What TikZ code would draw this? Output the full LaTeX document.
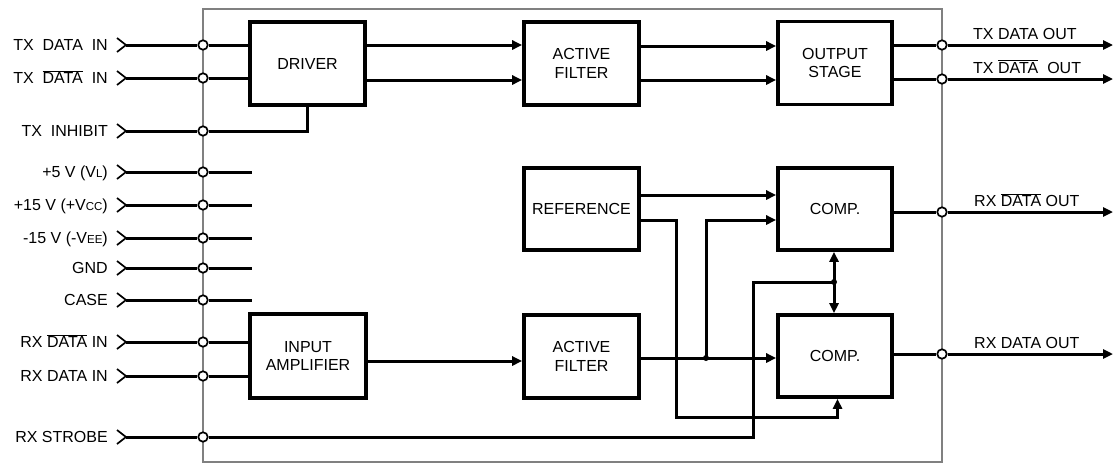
\documentclass[tikz,border=0pt]{standalone}
\usepackage{fontspec}
\setmainfont{Liberation Sans}
\usetikzlibrary{arrows.meta}
\pgfdeclarelayer{background}
\pgfsetlayers{background,main}
\newcommand\ovl[1]{\ensuremath{\overline{\hbox{#1}}}}
\newcommand\smc[1]{{\fontsize{11.5}{11.5}\selectfont #1}}
\begin{document}
\begin{tikzpicture}[x=1pt,y=-1pt,
  wire/.style={line width=3pt},
  arr/.style={line width=3pt,-{Triangle[length=10pt,width=9pt]}},
  blk/.style={draw,line width=3.6pt,minimum width=115pt,minimum height=83pt,inner sep=0pt,align=center,font=\fontsize{16}{18.3}\selectfont},
  pin/.style={circle,draw,fill=white,line width=1.7pt,minimum size=9.5pt,inner sep=0pt},
  lab/.style={anchor=base east,inner sep=0pt,font=\fontsize{16}{18}\selectfont},
  olab/.style={anchor=base west,inner sep=0pt,font=\fontsize{16}{18}\selectfont},
  chev/.style={line width=1.7pt},
  frame/.style={draw=black!50,line width=2.2pt},
  dot/.style={circle,fill=black,minimum size=6pt,inner sep=0pt},
]
\useasboundingbox (0,0) rectangle (1115,466);

% blocks
\node[blk] (drv)  at (307.5,63.5) {DRIVER};
\node[blk] (af1)  at (581.5,63.5) {ACTIVE\\FILTER};
\node[blk,minimum width=114pt] (out) at (835,63) {OUTPUT\\STAGE};
\node[blk,minimum height=82pt] (ref) at (581.5,209) {REFERENCE};
\node[blk,minimum width=114pt,minimum height=82pt] (cmp1) at (835,209) {COMP.};
\node[blk,minimum width=116pt,minimum height=84pt] (amp) at (308,356) {INPUT\\AMPLIFIER};
\node[blk] (af2)  at (581.5,356.5) {ACTIVE\\FILTER};
\node[blk,minimum width=114pt,minimum height=82pt] (cmp2) at (835,356) {COMP.};

% left pins
\foreach \i/\y/\t in {1/45/{TX\ \ DATA\ \ IN},
                      2/78/{TX\ \ \ovl{DATA}\ \ IN},
                      3/131/{TX\ \ INHIBIT},
                      4/172/{+5 V (V\smc{L})},
                      5/205/{+15 V (+V\smc{CC})},
                      6/238/{-15 V (-V\smc{EE})},
                      7/268/{GND},
                      8/300/{CASE},
                      9/342/{RX \ovl{DATA} IN},
                      10/376/{RX DATA IN},
                      11/437/{RX STROBE}}{
  \coordinate (s\i) at (126,\y);
  \node[pin] (p\i) at (203,\y) {};
  \node[lab] (l\i) at (108,\y+5.7) {\t};
  \draw[chev] (117,\y-7) -- (s\i) -- (117,\y+7);
  \begin{pgfonlayer}{background}
    \draw[wire] (s\i) -- (p\i);
  \end{pgfonlayer}
}

% right pins
\foreach \i/\y in {1/45,2/79,3/212,4/354}{
  \node[pin] (q\i) at (942,\y) {};
  \coordinate (t\i) at (1113,\y);
}
\node[olab] (ol1) at (973,39) {TX DATA OUT};
\node[olab] (ol2) at (973,73) {TX \ovl{DATA}\ \ OUT};
\node[olab] (ol3) at (974,206.5) {RX \ovl{DATA} OUT};
\node[olab] (ol4) at (974,348.5) {RX DATA OUT};

% helper coordinates
\coordinate (yA) at (0,45);
\coordinate (yB) at (0,80);
\coordinate (yC) at (0,46);
\coordinate (yR1) at (0,195);
\coordinate (yR2) at (0,220);
\coordinate (yM) at (0,361);
\coordinate (yF) at (0,358);
\coordinate (rA) at (676,220);
\coordinate (rB) at (676,417);
\coordinate (rC) at (837.5,417);
\coordinate (jT) at (706,220);
\node[dot] (j1) at (706,358) {};
\node[dot] (j2) at (834,282) {};
\coordinate (sA) at (753,282);
\coordinate (sB) at (753,437);
\foreach \i in {4,5,6,7,8}{\coordinate (e\i) at (252,0 |- p\i);}

\begin{pgfonlayer}{background}
  \draw[frame] (203,9) rectangle (942,462);
  % driver inputs
  \draw[wire] (p1) -- (p1 -| drv.west);
  \draw[wire] (p2) -- (p2 -| drv.west);
  \draw[wire] (p3) -| (drv.south);
  % power stubs
  \foreach \i in {4,5,6,7,8}{\draw[wire] (p\i) -- (e\i |- p\i);}
  % amp inputs
  \draw[wire] (p9) -- (p9 -| amp.west);
  \draw[wire] (p10) -- (p10 -| amp.west);
  % tx chain
  \draw[arr] (drv.east |- yA) -- (af1.west |- yA);
  \draw[arr] (drv.east |- yB) -- (af1.west |- yB);
  \draw[arr] (af1.east |- yC) -- (out.west |- yC);
  \draw[arr] (af1.east |- yB) -- (out.west |- yB);
  \draw[wire] (out.east |- q1) -- (q1);
  \draw[wire] (out.east |- q2) -- (q2);
  \draw[arr] (q1) -- (t1);
  \draw[arr] (q2) -- (t2);
  % rx chain
  \draw[arr] (amp.east |- yM) -- (af2.west |- yM);
  \draw[arr] (af2.east |- yF) -- (cmp2.west |- yF);
  \draw[arr] (j1.center) -- (jT) -- (cmp1.west |- jT);
  \draw[arr] (ref.east |- yR1) -- (cmp1.west |- yR1);
  \draw[arr] (ref.east |- yR2) -- (rA) -- (rB) -- (rC) -- (rC |- cmp2.south);
  \draw[arr] (j2.center) -- (j2 |- cmp1.south);
  \draw[arr] (j2.center) -- (j2 |- cmp2.north);
  \draw[wire] (p11) -- (sB) -- (sA) -- (j2.center);
  \draw[wire] (cmp1.east |- q3) -- (q3);
  \draw[wire] (cmp2.east |- q4) -- (q4);
  \draw[arr] (q3) -- (t3);
  \draw[arr] (q4) -- (t4);
\end{pgfonlayer}
\end{tikzpicture}
\end{document}
